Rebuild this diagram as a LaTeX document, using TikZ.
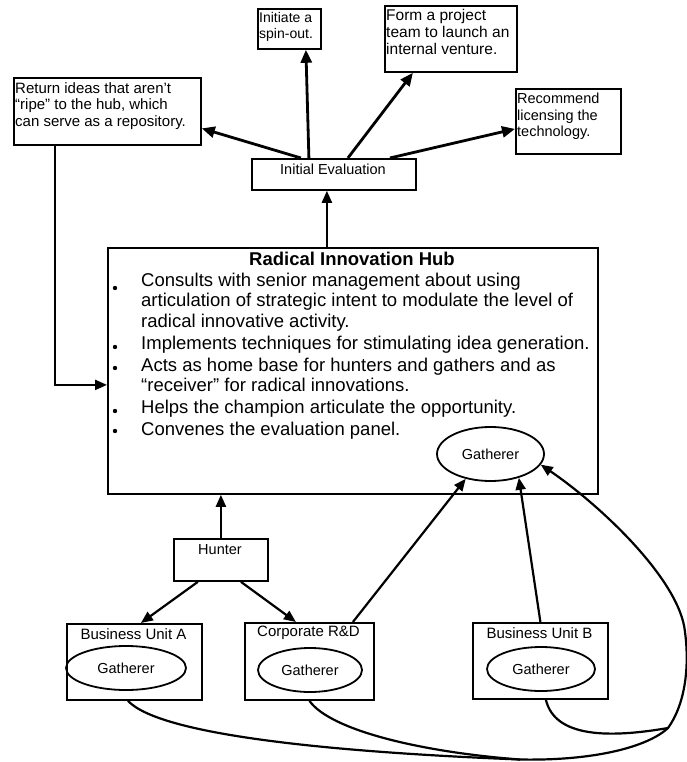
\documentclass[tikz,border=0pt]{standalone}
\usepackage{fontspec}
\setmainfont{Liberation Sans}
\usetikzlibrary{arrows.meta,shapes.geometric}
\begin{document}
\begin{tikzpicture}[x=1pt,y=-1pt,
  box/.style={draw, line width=1.8pt, inner sep=0pt, anchor=north west},
  txt/.style={anchor=north west, inner sep=0pt, align=left},
  ctxt/.style={inner sep=0pt, font=\fontsize{14.5}{16}\selectfont},
  unit/.style={inner sep=0pt, font=\fontsize{15}{17}\selectfont},
  hubtxt/.style={font=\fontsize{18.5}{21}\selectfont, anchor=base west, inner sep=0pt},
  gath/.style={draw, ellipse, line width=1.8pt, inner sep=0pt, font=\fontsize{14.5}{16}\selectfont},
  arr/.style={line width=2.2pt, -{Triangle[length=12pt,width=10pt]}},
  bigarr/.style={line width=2.8pt, -{Triangle[length=13pt,width=11pt]}},
  curve/.style={line width=2.2pt},
  dot/.style={circle, fill, inner sep=0pt, minimum size=4.4pt},
]
\useasboundingbox[fill=white] (0,0) rectangle (686,762);

% ---------- outcome boxes ----------
\node[box, minimum width=63pt, minimum height=40pt] (spin) at (257,8) {};
\node[txt, font=\fontsize{14}{16}\selectfont] (spint) at (259,12) {Initiate a\\spin-out.};

\node[box, minimum width=132pt, minimum height=66pt] (form) at (384,5) {};
\node[txt, font=\fontsize{15.5}{17}\selectfont] (formt) at (386,9) {Form a project\\team to launch an\\internal venture.};

\node[box, minimum width=187pt, minimum height=67pt] (ret) at (13,77) {};
\node[txt, font=\fontsize{15}{16.5}\selectfont] (rett) at (15,82) {Return ideas that aren’t\\“ripe” to the hub, which\\can serve as a repository.};

\node[box, minimum width=105pt, minimum height=65pt] (rec) at (515,88) {};
\node[txt, font=\fontsize{14.5}{16.5}\selectfont] (rect) at (517,93) {Recommend\\licensing the\\technology.};

\node[box, minimum width=164pt, minimum height=31pt] (ie) at (251,158) {};
\node[ctxt] (iet) at (333,169) {Initial Evaluation};

% ---------- hub ----------
\node[box, minimum width=490pt, minimum height=246pt] (hub) at (107,247) {};
\node[inner sep=0pt, anchor=base, font=\bfseries\fontsize{18.5}{21}\selectfont] (hubt) at (352,265) {Radical Innovation Hub};

\node[hubtxt] (l1) at (141,286) {Consults with senior management about using};
\node[hubtxt] (l2) at (141,306.5) {articulation of strategic intent to modulate the level of};
\node[hubtxt] (l3) at (141,327) {radical innovative activity.};
\node[hubtxt] (l4) at (141,349) {Implements techniques for stimulating idea generation.};
\node[hubtxt] (l5) at (141,371) {Acts as home base for hunters and gathers and as};
\node[hubtxt] (l6) at (141,391.5) {“receiver” for radical innovations.};
\node[hubtxt] (l7) at (141,413.5) {Helps the champion articulate the opportunity.};
\node[hubtxt] (l8) at (141,435.5) {Convenes the evaluation panel.};

\node[dot] (b1) at (115,288) {};
\node[dot] (b2) at (115,347) {};
\node[dot] (b3) at (115,368) {};
\node[dot] (b4) at (115,411) {};
\node[dot] (b5) at (115,431) {};

\node[gath, minimum width=107pt, minimum height=54pt] (hg) at (490.5,454) {Gatherer};

% ---------- hunter and units ----------
\node[box, minimum width=94pt, minimum height=42pt] (hunter) at (173,538) {};
\node[ctxt] (huntert) at (220,550) {Hunter};

\node[box, minimum width=135pt, minimum height=76pt] (bua) at (66,623) {};
\node[unit] (buat) at (133.5,634) {Business Unit A};
\node[gath, minimum width=120pt, minimum height=44pt] (ga) at (126,668) {Gatherer};

\node[box, minimum width=129pt, minimum height=77pt] (corp) at (244,622) {};
\node[unit] (corpt) at (308.5,633) {Corporate R\&D};
\node[gath, minimum width=104pt, minimum height=44pt] (gc) at (310,670) {Gatherer};

\node[box, minimum width=135pt, minimum height=76pt] (bub) at (472,622) {};
\node[unit] (bubt) at (539.5,633) {Business Unit B};
\node[gath, minimum width=108pt, minimum height=44pt] (gb) at (541,669) {Gatherer};

% ---------- connectors from the evaluation ----------
\draw[bigarr] ([xshift=-33pt]ie.north) -- ([yshift=-17pt]ret.east);
\draw[bigarr] ([xshift=-25pt]ie.north) -- ([xshift=16.5pt]spin.south);
\draw[bigarr] ([xshift=14pt]ie.north) -- ([xshift=-38pt]form.south);
\draw[bigarr] ([xshift=56pt]ie.north) -- ([yshift=-7.5pt]rec.west);

\coordinate (ieb) at ([xshift=-7pt]ie.south);
\draw[arr] (ieb |- hub.north) -- (ieb);

\coordinate (rl) at ([xshift=-52.5pt]ret.south);
\draw[arr] (rl) |- ([yshift=-14pt]hub.west);

% ---------- connectors below the hub ----------
\draw[arr] (hunter.north) -- (hunter.north |- hub.south);
\draw[arr] ([xshift=-23pt]hunter.south) -- ([xshift=6.5pt]bua.north);
\draw[arr] ([xshift=20pt]hunter.south) -- ([xshift=-13.5pt]corp.north);
\draw[arr] ([xshift=43.5pt]corp.north) -- (hg.-135);
\draw[arr] (bub.north) -- (hg.-40);

% gatherer links sweeping round to the hub gatherer
\coordinate (M) at (520,759.5);
\coordinate (J) at (668,728);
\coordinate (R) at (685,632);
\draw[curve] ([xshift=-6.5pt]bua.south) .. controls (160,735) and (330,752) .. (M);
\draw[curve] (corp.south) .. controls (330,730) and (420,752) .. (M);
\draw[curve] ([xshift=5.5pt]bub.south) .. controls (555,738) and (610,738) .. (J);
\draw[arr] (M) .. controls (600,761) and (650,745) .. (J)
  .. controls (684,706) and (690,670) .. (R)
  .. controls (680,580) and (600,505) .. (hg.-12);
\end{tikzpicture}
\end{document}
